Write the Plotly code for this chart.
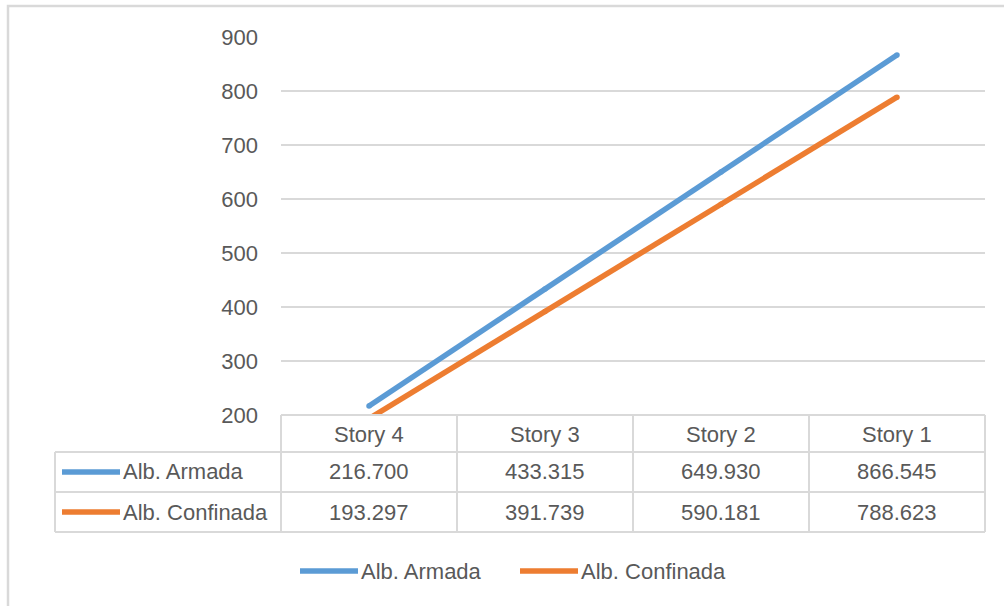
import plotly.graph_objects as go

# Data
stories = ["Story 4", "Story 3", "Story 2", "Story 1"]
series_names = ["Alb. Armada", "Alb. Confinada"]
armada = [216.700, 433.315, 649.930, 866.545]
confinada = [193.297, 391.739, 590.181, 788.623]
series_values = [armada, confinada]
series_colors = ["#5B9BD5", "#ED7D31"]
y_ticks = [200, 300, 400, 500, 600, 700, 800, 900]

W, H = 1004, 606
PLOT_L, PLOT_R = 281, 985      # plot area in pixels
PLOT_T, PLOT_B = 37, 415
TEXT = "#595959"
GRID = "#D9D9D9"
FONT = "Liberation Sans, Arial, sans-serif"
FS = 22


def px(x):
    return (x - PLOT_L) / (PLOT_R - PLOT_L)


def py(y):
    return (PLOT_B - y) / (PLOT_B - PLOT_T)


fig = go.Figure()
for name, vals, col in zip(series_names, series_values, series_colors):
    fig.add_trace(go.Scatter(
        x=stories, y=vals, name=name, mode="lines+markers",
        line=dict(color=col, width=5.5),
        marker=dict(color=col, size=5.5, line=dict(width=0)),
        showlegend=False, hoverinfo="x+y+name",
    ))

shapes = []
annotations = []


def hline(x0, x1, y, color=GRID, w=2):
    shapes.append(dict(type="line", xref="paper", yref="paper",
                       x0=px(x0), x1=px(x1), y0=py(y), y1=py(y),
                       line=dict(color=color, width=w)))


def vline(x, y0, y1, color=GRID, w=2):
    shapes.append(dict(type="line", xref="paper", yref="paper",
                       x0=px(x), x1=px(x), y0=py(y0), y1=py(y1),
                       line=dict(color=color, width=w)))


def text(x, y, s, anchor="center"):
    annotations.append(dict(xref="paper", yref="paper", x=px(x), y=py(y),
                            text=s, showarrow=False, xanchor=anchor,
                            yanchor="middle",
                            font=dict(family=FONT, size=FS, color=TEXT)))


def swatch(x0, x1, y, color):
    shapes.append(dict(type="line", xref="paper", yref="paper",
                       x0=px(x0), x1=px(x1), y0=py(y), y1=py(y),
                       line=dict(color=color, width=5.5)))


# Outer chart frame
shapes.append(dict(type="rect", xref="paper", yref="paper",
                   x0=px(8), x1=px(1020), y0=py(6), y1=py(620),
                   line=dict(color=GRID, width=2.5), layer="below"))

# Data table grid
n = len(stories)
col_w = (PLOT_R - PLOT_L) / n
row_y = [415, 452, 492, 532]
label_left = 55
hline(PLOT_L, PLOT_R, row_y[0])
for y in row_y[1:]:
    hline(label_left, PLOT_R, y)
vline(label_left, row_y[1], row_y[3])
for i in range(n + 1):
    vline(PLOT_L + i * col_w, row_y[0], row_y[3])

# Header row and value rows
for i, s in enumerate(stories):
    cx = PLOT_L + (i + 0.5) * col_w
    text(cx, (row_y[0] + row_y[1]) / 2 + 1, s)
    for r, vals in enumerate(series_values):
        text(cx, (row_y[r + 1] + row_y[r + 2]) / 2, f"{vals[i]:.3f}")

# Row labels with line keys
for r, (name, col) in enumerate(zip(series_names, series_colors)):
    yc = (row_y[r + 1] + row_y[r + 2]) / 2
    swatch(62, 120, yc, col)
    text(121, yc, name, anchor="left")

# Legend below the table
legend_pos = [300, 520]
for x0, name, col in zip(legend_pos, series_names, series_colors):
    swatch(x0, x0 + 58, 571, col)
    text(x0 + 59, 571, name, anchor="left")

fig.update_layout(
    width=W, height=H,
    margin=dict(l=PLOT_L, r=W - PLOT_R, t=PLOT_T, b=H - PLOT_B, pad=0),
    paper_bgcolor="white", plot_bgcolor="white",
    shapes=shapes, annotations=annotations,
    xaxis=dict(type="category", range=[-0.5, n - 0.5], showticklabels=False,
               showgrid=False, zeroline=False, showline=False, ticks=""),
    yaxis=dict(range=[200, 900], tickvals=y_ticks, showgrid=True,
               gridcolor=GRID, gridwidth=2, zeroline=False, showline=False,
               ticks="", ticklabelstandoff=22,
               tickfont=dict(family=FONT, size=FS, color=TEXT)),
    font=dict(family=FONT, size=FS, color=TEXT),
)

fig.write_html("out.html")
